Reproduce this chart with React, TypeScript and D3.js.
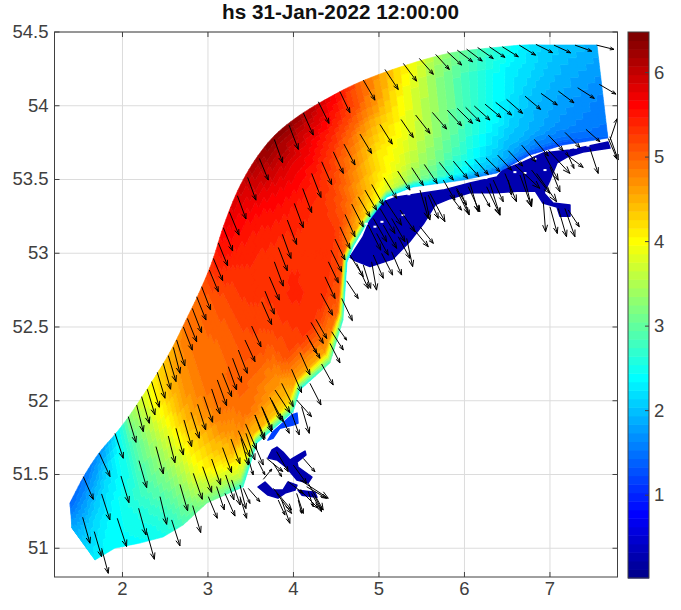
import * as d3 from "d3";

const W = 681;
const H = 610;
const plot = { left: 54.5, right: 617.5, top: 32, bottom: 577 };
const bar = { left: 628, right: 649, top: 32, bottom: 578 };

const lonDomain = [1.205, 7.79];
const latDomain = [50.805, 54.5];
const hsDomain = [0.02, 6.48];
const lonTicks = [2, 3, 4, 5, 6, 7];
const latTicks = [51, 51.5, 52, 52.5, 53, 53.5, 54, 54.5];
const hsTicks = [1, 2, 3, 4, 5, 6];

// model grid: sections from the sea edge to the coast, SW to NE
// [seaLon, seaLat, coastLon, coastLat]
const sections = [
  [1.386, 51.307, 1.409, 51.137],
  [1.544, 51.483, 1.678, 50.92],
  [1.725, 51.645, 1.912, 51.001],
  [1.936, 51.788, 2.205, 51.035],
  [2.111, 51.924, 2.474, 51.076],
  [2.357, 52.14, 2.708, 51.157],
  [2.556, 52.33, 2.988, 51.307],
  [2.743, 52.547, 3.409, 51.415],
  [2.895, 52.73, 3.573, 51.713],
  [3.047, 52.94, 3.994, 51.923],
  [3.187, 53.191, 4.076, 52.073],
  [3.351, 53.428, 4.427, 52.256],
  [3.55, 53.632, 4.579, 52.547],
  [3.784, 53.801, 4.626, 52.94],
  [4.076, 53.937, 4.696, 53.042],
  [4.427, 54.059, 4.86, 53.205],
  [4.778, 54.161, 5.094, 53.381],
  [5.246, 54.262, 5.398, 53.449],
  [5.83, 54.357, 5.982, 53.496],
  [6.415, 54.398, 6.38, 53.544],
  [6.708, 54.412, 6.766, 53.666],
  [7.0, 54.412, 7.152, 53.734],
  [7.55, 54.412, 7.678, 53.781],
];
const fractions = [0, 0.2, 0.4, 0.6, 0.8, 0.94, 1];
// significant wave height at each fraction of each section
const hsValues = [
  [1.4, 1.5, 1.6, 1.7, 1.8, 1.85, 1.9],
  [1.5, 1.7, 1.9, 2.1, 2.2, 2.25, 2.3],
  [1.7, 2.0, 2.2, 2.3, 2.4, 2.4, 2.4],
  [2.3, 2.5, 2.5, 2.6, 2.5, 2.45, 2.4],
  [3.4, 3.1, 3.0, 2.9, 2.7, 2.55, 2.5],
  [4.1, 4.0, 3.7, 3.4, 3.1, 2.9, 2.8],
  [4.5, 4.6, 4.5, 4.2, 3.9, 3.4, 3.1],
  [4.9, 4.9, 4.9, 4.8, 4.4, 3.6, 2.6],
  [5.0, 5.0, 4.95, 5.0, 4.9, 4.4, 2.4],
  [5.4, 5.2, 5.2, 5.1, 4.7, 4.3, 2.6],
  [5.7, 5.4, 5.3, 5.2, 5.1, 4.6, 2.4],
  [5.9, 5.5, 5.3, 5.4, 5.3, 4.6, 2.8],
  [6.2, 5.7, 5.4, 5.3, 5.3, 5.0, 2.5],
  [6.4, 5.85, 5.5, 5.3, 5.3, 5.1, 2.0],
  [6.2, 5.7, 5.4, 5.2, 5.1, 4.7, 2.4],
  [5.7, 5.4, 5.0, 4.8, 4.6, 4.3, 2.4],
  [5.0, 4.9, 4.5, 4.2, 4.1, 3.8, 2.2],
  [4.2, 4.0, 3.9, 3.8, 3.6, 3.3, 2.2],
  [3.2, 3.0, 3.0, 2.9, 2.7, 2.4, 1.8],
  [2.6, 2.4, 2.4, 2.3, 2.1, 1.9, 1.4],
  [2.3, 2.2, 2.1, 2.0, 1.9, 1.6, 1.2],
  [2.1, 2.0, 1.9, 1.8, 1.7, 1.5, 1.2],
  [1.9, 1.8, 1.7, 1.6, 1.55, 1.5, 1.4],
];

// sheltered waters, [lon, lat]
const wadden = [
  [4.661, 52.974], [4.813, 53.11], [4.895, 53.225], [5.012, 53.34], [5.211, 53.381], [5.515, 53.408],
  [5.749, 53.428], [6.064, 53.476], [6.38, 53.517], [6.45, 53.564], [6.684, 53.618], [6.918, 53.679],
  [7.234, 53.7], [7.678, 53.754], [7.702, 53.713], [7.386, 53.686], [7.199, 53.652], [7.082, 53.612],
  [7.0, 53.496], [6.93, 53.408], [7.035, 53.34], [7.234, 53.327], [7.234, 53.25], [7.117, 53.25],
  [7.082, 53.313], [6.918, 53.34], [6.83, 53.42], [6.614, 53.42], [6.38, 53.41], [6.064, 53.41],
  [5.83, 53.37], [5.66, 53.33], [5.52, 53.2], [5.36, 53.08], [5.16, 52.96], [4.895, 52.91],
  [4.72, 52.95],
];
const oosterschelde = [
  [3.749, 51.666], [3.807, 51.686], [3.877, 51.652], [3.959, 51.598], [3.994, 51.611], [4.135, 51.659],
  [4.146, 51.632], [4.041, 51.584], [4.053, 51.55], [4.216, 51.483], [4.17, 51.442], [4.041, 51.462],
  [3.924, 51.544], [3.807, 51.598], [3.702, 51.611],
];
const westerschelde = [
  [3.585, 51.415], [3.667, 51.449], [3.76, 51.394], [3.877, 51.394], [3.936, 51.449], [4.041, 51.428],
  [4.018, 51.394], [3.901, 51.374], [3.819, 51.34], [3.702, 51.36],
];
const schelde = [[4.053, 51.394], [4.251, 51.38], [4.275, 51.346], [4.099, 51.36]];
const haringvliet = [
  [3.982, 51.903], [4.041, 51.916], [4.053, 51.848], [3.994, 51.835], [3.842, 51.814], [3.76, 51.746],
  [3.702, 51.733], [3.76, 51.79],
];
const shelteredHs = [0.27, 0.27, 0.27, 0.27, 1.2];
// dry cells inside the lagoon
const dryCells = [
  [5.281, 53.259], [4.953, 53.18], [5.035, 53.213], [6.942, 53.564], [6.708, 53.544], [6.59, 53.55],
  [7.444, 53.73], [7.094, 53.708], [6.825, 53.64], [5.9, 53.47], [5.35, 53.4], [5.65, 53.44],
  [6.25, 53.51], [4.85, 53.2], [7.3, 53.715],
];

// lon, lat, u, v (degrees on the plot)
const quiver = [
  [1.542, 51.485, 0.117, -0.154], [1.729, 51.644, 0.125, -0.158], [1.912, 51.779, 0.097, -0.169], [2.068, 51.892, 0.09, -0.174],
  [2.166, 51.971, 0.078, -0.181], [2.224, 52.028, 0.09, -0.181], [2.29, 52.078, 0.09, -0.174], [2.341, 52.13, 0.09, -0.174],
  [2.407, 52.193, 0.09, -0.176], [2.477, 52.254, 0.086, -0.176], [2.536, 52.306, 0.09, -0.176], [2.595, 52.362, 0.078, -0.176],
  [2.633, 52.412, 0.097, -0.176], [1.534, 51.21, 0.086, -0.176], [1.67, 51.113, 0.086, -0.17], [1.756, 51.0, 0.078, -0.17],
  [1.756, 51.368, 0.097, -0.176], [1.939, 51.203, 0.109, -0.192], [1.982, 51.49, 0.094, -0.181], [2.193, 51.594, 0.09, -0.183],
  [2.189, 51.271, 0.086, -0.181], [2.283, 51.113, 0.09, -0.188], [2.392, 51.689, 0.086, -0.185], [2.439, 51.35, 0.078, -0.188],
  [2.575, 51.192, 0.097, -0.176], [2.536, 51.761, 0.078, -0.181], [2.626, 51.813, 0.086, -0.181], [2.719, 51.87, 0.09, -0.181],
  [2.801, 51.922, 0.097, -0.176], [2.879, 51.976, 0.094, -0.174], [2.953, 52.028, 0.101, -0.174], [3.043, 52.08, 0.097, -0.169],
  [3.109, 52.141, 0.109, -0.174], [3.168, 52.186, 0.109, -0.158], [3.238, 52.231, 0.097, -0.158], [3.288, 52.288, 0.105, -0.163],
  [3.355, 52.344, 0.105, -0.158], [3.433, 52.412, 0.117, -0.147], [2.828, 51.508, 0.105, -0.176], [2.672, 51.433, 0.09, -0.179],
  [2.821, 51.289, 0.094, -0.183], [2.938, 51.553, 0.105, -0.174], [3.043, 51.605, 0.105, -0.176], [3.171, 51.682, 0.105, -0.169],
  [3.269, 51.741, 0.105, -0.169], [3.355, 51.797, 0.136, -0.176], [3.44, 51.843, 0.129, -0.176], [3.55, 51.904, 0.105, -0.169],
  [3.635, 51.953, 0.117, -0.151], [3.725, 52.023, 0.125, -0.154], [3.784, 52.073, 0.175, -0.154], [3.862, 52.118, 0.136, -0.158],
  [3.978, 52.213, 0.117, -0.158], [4.076, 52.326, 0.117, -0.151], [4.185, 52.412, 0.125, -0.124], [4.193, 52.118, 0.129, -0.147],
  [4.329, 52.249, 0.136, -0.142], [4.427, 52.389, 0.117, -0.133], [3.101, 51.418, 0.09, -0.158], [3.207, 51.497, 0.097, -0.169],
  [3.004, 51.35, 0.105, -0.147], [3.199, 51.372, 0.117, -0.154], [3.277, 51.463, 0.1, -0.17], [3.374, 51.429, 0.07, -0.16],
  // Scheldt mouths
  [3.374, 51.35, 0.078, -0.147], [3.386, 51.745, 0.086, -0.181], [3.444, 51.779, 0.105, -0.181], [3.53, 51.722, 0.117, -0.158],
  [3.627, 51.96, 0.117, -0.17], [3.549, 51.903, 0.117, -0.158], [3.744, 52.005, 0.136, -0.147], [3.842, 51.915, 0.109, -0.136],
  [3.978, 51.915, 0.09, -0.147], [4.095, 51.96, 0.09, -0.181], [4.037, 52.005, 0.175, -0.113], [4.115, 51.609, 0.136, -0.09],
  [3.998, 51.564, 0.156, -0.124], [3.803, 51.655, 0.136, -0.136], [3.686, 51.61, 0.19, -0.09], [3.588, 51.587, 0.078, -0.09],
  [3.647, 51.467, 0.1, 0.07], [3.471, 51.61, 0.058, -0.113], [3.764, 51.576, 0.097, -0.09], [4.076, 51.463, 0.331, -0.124],
  [4.154, 51.417, 0.234, -0.079], [3.939, 51.451, 0.175, -0.079], [4.173, 51.44, 0.175, -0.181], [4.076, 51.395, 0.214, -0.124],
  [4.037, 51.372, 0.078, -0.136], [4.173, 51.384, 0.058, -0.102], [4.212, 51.372, 0.117, -0.124], [3.803, 51.372, 0.175, -0.136],
  [3.764, 51.406, 0.214, -0.147], [3.861, 51.327, 0.097, -0.158], [3.822, 51.327, 0.078, -0.102], [3.471, 51.406, 0.136, -0.09],
  [3.413, 51.406, 0.078, -0.102], [4.056, 51.327, 0.039, -0.09], [4.251, 51.35, 0.078, -0.09],
  // North Sea, Dutch coast
  [4.544, 54.095, 0.117, -0.142], [4.291, 54.027, 0.125, -0.147], [4.115, 53.952, 0.117, -0.151], [3.948, 53.869, 0.109, -0.165],
  [3.776, 53.772, 0.097, -0.158], [3.601, 53.643, 0.105, -0.147], [3.464, 53.514, 0.097, -0.154], [3.344, 53.39, 0.101, -0.158],
  [3.25, 53.281, 0.113, -0.158], [3.18, 53.173, 0.109, -0.158], [3.121, 53.071, 0.109, -0.156], [3.063, 52.965, 0.109, -0.151],
  [3.016, 52.886, 0.105, -0.147], [2.926, 52.773, 0.105, -0.158], [2.868, 52.705, 0.109, -0.158], [2.817, 52.626, 0.109, -0.165],
  [2.759, 52.558, 0.109, -0.158], [2.712, 52.501, 0.105, -0.158], [4.213, 53.541, 0.109, -0.163], [4.33, 53.62, 0.117, -0.154],
  [4.466, 53.688, 0.117, -0.147], [4.591, 53.74, 0.129, -0.142], [4.778, 53.808, 0.136, -0.131], [5.012, 53.873, 0.144, -0.133],
  [5.258, 53.907, 0.144, -0.122], [4.108, 53.439, 0.105, -0.163], [4.01, 53.338, 0.105, -0.165], [3.928, 53.225, 0.109, -0.165],
  [3.87, 53.128, 0.101, -0.163], [3.823, 53.039, 0.105, -0.158], [3.776, 52.942, 0.105, -0.165], [3.718, 52.84, 0.117, -0.158],
  [3.667, 52.743, 0.109, -0.156], [3.628, 52.671, 0.117, -0.154], [3.511, 52.506, 0.109, -0.14], [4.681, 53.333, 0.136, -0.154],
  [4.603, 53.263, 0.117, -0.151], [4.544, 53.179, 0.117, -0.147], [4.486, 53.096, 0.117, -0.142], [4.439, 53.021, 0.125, -0.147],
  [4.408, 52.942, 0.117, -0.142], [4.369, 52.84, 0.117, -0.147], [4.322, 52.727, 0.136, -0.147], [4.205, 52.531, 0.144, -0.142],
  [4.264, 52.551, 0.125, -0.129], [4.155, 52.445, 0.117, -0.124], [4.447, 52.468, 0.136, -0.124], [4.564, 52.694, 0.125, -0.151],
  [4.525, 52.49, 0.097, -0.079], [4.622, 52.813, 0.136, -0.12], [4.759, 53.383, 0.136, -0.136], [4.837, 53.428, 0.136, -0.136],
  [4.915, 53.466, 0.136, -0.14], [5.059, 53.512, 0.148, -0.14], [5.219, 53.557, 0.144, -0.129], [5.383, 53.58, 0.136, -0.12],
  // German Bight rows
  [5.07, 54.246, 0.156, -0.136], [4.817, 54.174, 0.136, -0.136], [5.285, 54.287, 0.156, -0.12], [5.472, 54.321, 0.164, -0.108],
  [5.663, 54.348, 0.16, -0.102], [5.799, 54.366, 0.168, -0.09], [5.916, 54.377, 0.179, -0.079], [6.025, 54.384, 0.183, -0.081],
  [6.154, 54.395, 0.183, -0.075], [6.291, 54.4, 0.183, -0.072], [6.443, 54.4, 0.187, -0.068], [6.641, 54.411, 0.191, -0.068],
  [6.836, 54.416, 0.195, -0.056], [7.047, 54.411, 0.195, -0.052], [7.293, 54.411, 0.195, -0.041], [7.546, 54.411, 0.203, -0.029],
  [5.429, 53.937, 0.168, -0.124], [5.624, 53.955, 0.168, -0.113], [5.799, 53.971, 0.168, -0.106], [5.916, 53.982, 0.179, -0.102],
  [6.014, 53.989, 0.168, -0.097], [6.115, 53.998, 0.183, -0.095], [6.24, 54.011, 0.187, -0.09], [6.365, 54.023, 0.187, -0.086],
  [6.493, 54.043, 0.187, -0.095], [6.708, 54.065, 0.183, -0.09], [6.895, 54.084, 0.191, -0.079], [7.098, 54.099, 0.183, -0.079],
  [7.324, 54.122, 0.195, -0.072], [7.577, 54.145, 0.195, -0.066], [5.53, 53.602, 0.152, -0.129], [5.706, 53.616, 0.164, -0.12],
  [5.869, 53.625, 0.168, -0.118], [6.006, 53.625, 0.164, -0.106], [6.123, 53.636, 0.156, -0.102], [6.252, 53.647, 0.164, -0.095],
  [6.388, 53.665, 0.164, -0.102], [6.513, 53.695, 0.168, -0.104], [6.669, 53.733, 0.164, -0.113], [6.817, 53.772, 0.164, -0.113],
  [6.981, 53.801, 0.175, -0.106], [7.176, 53.819, 0.175, -0.102], [7.421, 53.84, 0.164, -0.084],
  // Wadden and Ems
  [5.83, 53.394, 0.136, -0.102], [5.966, 53.406, 0.09, -0.147], [5.908, 53.44, 0.117, -0.113], [6.044, 53.451, 0.136, -0.17],
  [6.2, 53.417, 0.097, -0.102], [6.298, 53.473, 0.117, -0.215], [6.337, 53.496, 0.117, -0.147], [6.473, 53.541, 0.136, -0.192],
  [6.512, 53.496, 0.039, -0.102], [6.649, 53.53, 0.136, -0.215], [6.785, 53.564, 0.214, -0.158], [6.59, 53.598, 0.292, -0.158],
  [6.941, 53.665, 0.156, -0.17], [6.98, 53.699, 0.253, -0.158], [7.175, 53.677, 0.214, -0.095], [7.195, 53.688, 0.086, -0.113],
  [7.0, 53.586, 0.117, -0.17], [6.844, 53.541, 0.234, -0.192], [6.922, 53.349, 0.027, -0.203], [7.0, 53.315, 0.086, -0.181],
  [7.097, 53.304, 0.097, -0.192], [7.175, 53.304, 0.117, -0.192], [7.214, 53.293, 0.129, -0.113], [7.467, 53.711, 0.097, -0.17],
  [7.701, 53.79, 0.097, -0.158], [7.682, 53.778, 0.105, -0.142], [7.702, 53.767, 0.086, 0.147],
  [5.07, 53.36, 0.195, -0.17], [5.012, 53.304, 0.175, -0.17], [4.934, 53.236, 0.156, -0.158], [4.875, 53.191, 0.146, -0.17],
  [5.246, 53.293, 0.175, -0.147], [5.148, 53.236, 0.156, -0.158], [5.051, 53.191, 0.156, -0.158], [4.973, 53.134, 0.136, -0.147],
  [5.324, 53.101, 0.07, -0.192], [5.226, 53.112, 0.136, -0.147], [5.148, 53.01, 0.117, -0.158], [5.031, 52.999, 0.129, -0.147],
  [4.934, 52.988, 0.117, -0.158], [4.914, 52.942, 0.058, -0.192], [4.817, 52.92, 0.086, -0.158], [4.661, 52.988, 0.156, -0.147],
  [4.739, 52.931, 0.136, -0.17], [5.382, 53.18, 0.195, -0.136], [5.48, 53.18, 0.156, -0.113], [5.577, 53.394, 0.117, -0.158],
  [5.753, 53.496, 0.136, -0.136], [5.597, 53.406, 0.175, -0.192], [5.909, 53.428, 0.136, -0.158], [6.065, 53.473, 0.097, -0.192],
  [6.259, 53.451, 0.156, -0.192], [6.688, 53.541, 0.097, -0.226], [5.538, 53.383, 0.058, -0.158], [5.48, 53.428, 0.097, -0.192],
];

const x = d3.scaleLinear().domain(lonDomain).range([plot.left, plot.right]);
const y = d3.scaleLinear().domain(latDomain).range([plot.bottom, plot.top]);
const barY = d3.scaleLinear().domain(hsDomain).range([bar.bottom, bar.top]);

// MATLAB jet(64)
const clamp = (v: number) => Math.max(0, Math.min(1, v));
const jet = d3.range(64).map((i) => {
  const v = (i + 1) / 64;
  const r = clamp(Math.min(4 * v - 1.5, -4 * v + 4.5));
  const g = clamp(Math.min(4 * v - 0.5, -4 * v + 3.5));
  const b = clamp(Math.min(4 * v + 0.5, -4 * v + 2.5));
  return d3.rgb(r * 255, g * 255, b * 255).formatHex();
});
const bandOf = d3.scaleQuantize<number>().domain(hsDomain).range(d3.range(64));

// smooth shading along the sections, linear across them
function spline(get: (i: number) => number, i: number, s: number) {
  const n = sections.length - 1;
  const p0 = get(Math.max(0, i - 1));
  const p1 = get(i);
  const p2 = get(i + 1);
  const p3 = get(Math.min(n, i + 2));
  const s2 = s * s;
  return 0.5 * (2 * p1 + (p2 - p0) * s + (2 * p0 - 5 * p1 + 4 * p2 - p3) * s2 + (3 * p1 - p0 - 3 * p2 + p3) * s2 * s);
}

function fieldPaths() {
  const paths = jet.map(() => d3.path());
  const sub = 6;
  // sea edge is a smooth curve, the coast keeps its corners
  const at = (i: number, j: number, s: number, t: number) => {
    const f = fractions[j] + t * (fractions[j + 1] - fractions[j]);
    const a = sections[i];
    const b = sections[i + 1];
    const seaLon = spline((k) => sections[k][0], i, s);
    const seaLat = spline((k) => sections[k][1], i, s);
    const coastLon = a[2] + s * (b[2] - a[2]);
    const coastLat = a[3] + s * (b[3] - a[3]);
    return [x(seaLon + f * (coastLon - seaLon)), y(seaLat + f * (coastLat - seaLat))];
  };
  for (let i = 0; i < sections.length - 1; i++) {
    for (let j = 0; j < fractions.length - 1; j++) {
      for (let p = 0; p < sub; p++) {
        for (let q = 0; q < sub; q++) {
          const s0 = p / sub, s1 = (p + 1) / sub, t0 = q / sub, t1 = (q + 1) / sub;
          const sm = (s0 + s1) / 2, tm = (t0 + t1) / 2;
          const hs = spline((k) => (1 - tm) * hsValues[k][j] + tm * hsValues[k][j + 1], i, sm);
          const path = paths[bandOf(hs)];
          const c = [at(i, j, s0, t0), at(i, j, s1, t0), at(i, j, s1, t1), at(i, j, s0, t1)];
          path.moveTo(c[0][0], c[0][1]);
          path.lineTo(c[1][0], c[1][1]);
          path.lineTo(c[2][0], c[2][1]);
          path.lineTo(c[3][0], c[3][1]);
          path.closePath();
        }
      }
    }
  }
  return paths.map((p) => p.toString());
}

function arrowPath() {
  const path = d3.path();
  quiver.forEach(([lon, lat, u, v]) => {
    const x0 = x(lon), y0 = y(lat), x1 = x(lon + u), y1 = y(lat + v);
    const angle = Math.atan2(y1 - y0, x1 - x0);
    const head = 0.24 * Math.hypot(x1 - x0, y1 - y0);
    path.moveTo(x0, y0);
    path.lineTo(x1, y1);
    path.moveTo(x1 - head * Math.cos(angle - 0.35), y1 - head * Math.sin(angle - 0.35));
    path.lineTo(x1, y1);
    path.lineTo(x1 - head * Math.cos(angle + 0.35), y1 - head * Math.sin(angle + 0.35));
  });
  return path.toString();
}

const ring = d3.line<number[]>().x((d) => x(d[0])).y((d) => y(d[1])).curve(d3.curveLinearClosed);
const font = "'Liberation Sans', Arial, sans-serif";
const ink = "#404040";

export default function App() {
  const bands = fieldPaths();
  const sheltered = [wadden, oosterschelde, westerschelde, schelde, haringvliet];
  return (
    <svg width={W} height={H} style={{ position: "absolute", left: 0, top: 0 }} fontFamily={font}>
      <rect width={W} height={H} fill="#fff" />
      {lonTicks.map((t) => (
        <line key={t} x1={x(t)} x2={x(t)} y1={plot.top} y2={plot.bottom} stroke="#dcdcdc" />
      ))}
      {latTicks.map((t) => (
        <line key={t} x1={plot.left} x2={plot.right} y1={y(t)} y2={y(t)} stroke="#dcdcdc" />
      ))}
      {sheltered.map((poly, i) => (
        <path key={i} d={ring(poly) ?? ""} fill={jet[bandOf(shelteredHs[i])]} stroke={jet[bandOf(shelteredHs[i])]}
          strokeWidth={1.5} strokeLinejoin="round" />
      ))}
      {bands.map((d, i) =>
        d ? <path key={i} d={d} fill={jet[i]} stroke={jet[i]} strokeWidth={0.6} /> : null
      )}
      {dryCells.map(([lon, lat], i) => (
        <rect key={i} x={x(lon) - 1.5} y={y(lat) - 1} width={3} height={2} fill="#fff" />
      ))}
      <path d={arrowPath()} fill="none" stroke="#000" strokeWidth={1} />

      <rect x={plot.left} y={plot.top} width={plot.right - plot.left} height={plot.bottom - plot.top}
        fill="none" stroke={ink} />
      {lonTicks.map((t) => (
        <g key={t}>
          <line x1={x(t)} x2={x(t)} y1={plot.bottom} y2={plot.bottom - 5} stroke={ink} />
          <line x1={x(t)} x2={x(t)} y1={plot.top} y2={plot.top + 5} stroke={ink} />
          <text x={x(t)} y={plot.bottom + 18} fontSize={18.5} textAnchor="middle" fill={ink}>{t}</text>
        </g>
      ))}
      {latTicks.map((t) => (
        <g key={t}>
          <line x1={plot.left} x2={plot.left + 5} y1={y(t)} y2={y(t)} stroke={ink} />
          <line x1={plot.right} x2={plot.right - 5} y1={y(t)} y2={y(t)} stroke={ink} />
          <text x={plot.left - 6} y={y(t) + 6} fontSize={18.5} textAnchor="end" fill={ink}>{t}</text>
        </g>
      ))}
      <text x={340.5} y={19} fontSize={20.7} fontWeight="bold" textAnchor="middle" fill="#111">
        hs 31-Jan-2022 12:00:00
      </text>

      {jet.map((c, i) => {
        const [lo, hi] = bandOf.invertExtent(i);
        return <rect key={i} x={bar.left} width={bar.right - bar.left} y={barY(hi)} height={barY(lo) - barY(hi) + 0.5} fill={c} />;
      })}
      <rect x={bar.left} y={bar.top} width={bar.right - bar.left} height={bar.bottom - bar.top} fill="none" stroke={ink} />
      {hsTicks.map((t) => (
        <g key={t}>
          <line x1={bar.right - 4} x2={bar.right} y1={barY(t)} y2={barY(t)} stroke={ink} />
          <text x={bar.right + 5} y={barY(t) + 6} fontSize={18.5} fill={ink}>{t}</text>
        </g>
      ))}
    </svg>
  );
}
